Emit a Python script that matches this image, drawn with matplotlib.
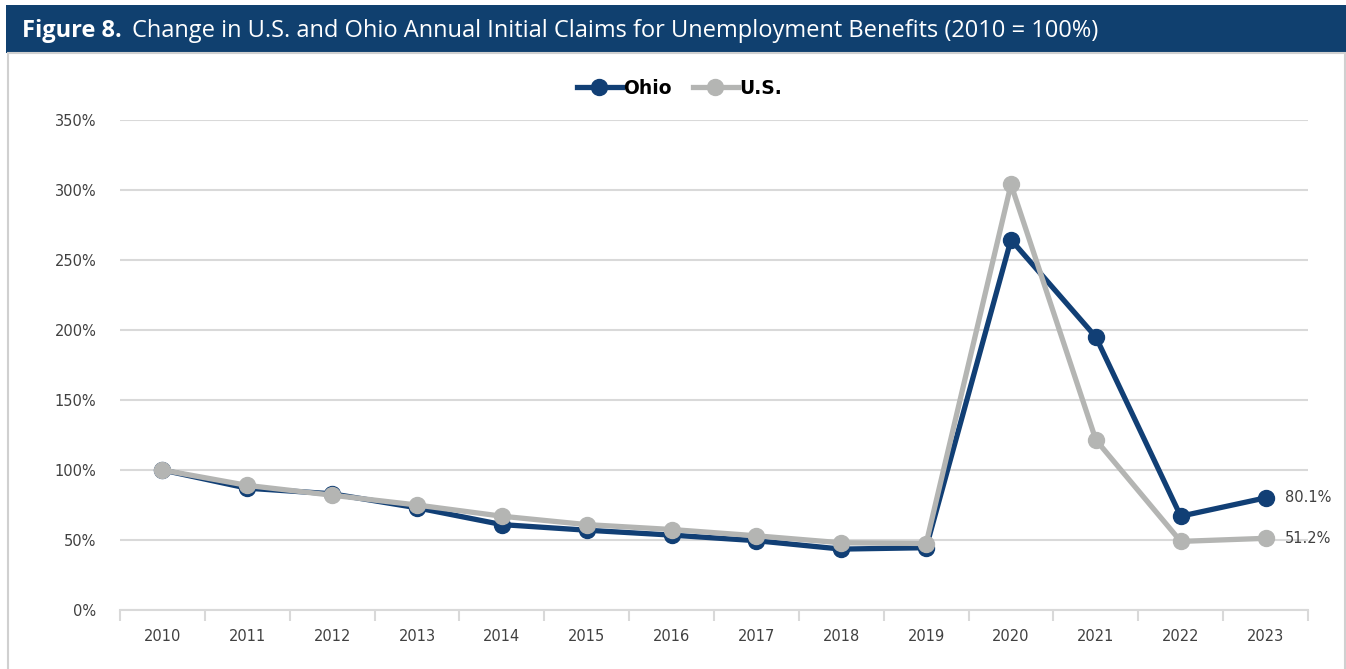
import matplotlib.pyplot as plt
import matplotlib.patches as patches
import numpy as np

# Initial claims indexed to 2010 = 100%
years = ['2010', '2011', '2012', '2013', '2014', '2015', '2016',
         '2017', '2018', '2019', '2020', '2021', '2022', '2023']
ohio = [100, 87, 83, 73, 61, 57, 53.5, 49.5, 43.5, 44.5, 264.5, 195, 67, 80.1]
us = [100, 89, 82, 75, 67, 61, 57.5, 53, 48, 47.5, 304, 121.5, 49, 51.2]

navy = '#113f75'
grey = '#b4b5b3'
grid = '#d9d9d9'
txt = '#404040'

fig = plt.figure(figsize=(13.46, 6.69), dpi=100)

# title bar and white panel
fig.patches.append(patches.Rectangle((6/1346, 1-53/669), 1, 48/669, transform=fig.transFigure,
                                     facecolor='#10406f', edgecolor='none', zorder=-2))
fig.patches.append(patches.Rectangle((8/1346, -0.01), (1337)/1346, 1-53/669+0.01, transform=fig.transFigure,
                                     facecolor='white', edgecolor='#d0d0d0', lw=1.5, zorder=-2))
fig.text(22/1346, 1-31/669, r'Figure 8.', color='white', fontsize=17, fontweight='bold',
         family='Open Sans', va='center', ha='left')
fig.text(132/1346, 1-31/669, 'Change in U.S. and Ohio Annual Initial Claims for Unemployment Benefits (2010 = 100%)',
         color='white', fontsize=17, family='Open Sans', va='center', ha='left')

ax = fig.add_axes([120/1346, 1-610/669, (1308-120)/1346, 490/669])
ax.set_facecolor('none')
x = np.arange(len(years))
ax.plot(x, ohio, color=navy, lw=3.8, marker='o', ms=11.5, label='Ohio', zorder=3)
ax.plot(x, us, color=grey, lw=3.8, marker='o', ms=11.5, label='U.S.', zorder=4)

ax.set_xlim(-0.5, len(years) - 0.5)
ax.set_ylim(0, 350)
ax.set_yticks(np.arange(0, 351, 50))
ax.set_yticklabels([f'{v}%' for v in range(0, 351, 50)])
ax.yaxis.grid(True, color=grid, lw=1.5)
ax.set_axisbelow(True)
ax.tick_params(axis='y', length=0, pad=17, labelsize=10.5, labelcolor=txt)

ax.set_xticks(x)
ax.set_xticklabels(years)
ax.set_xticks(np.arange(-0.5, len(years), 1), minor=True)
ax.tick_params(axis='x', which='major', length=0, pad=14, labelsize=10.5, labelcolor=txt)
ax.tick_params(axis='x', which='minor', length=8, width=1.5, color=grid, direction='out')

for s in ['top', 'right', 'left']:
    ax.spines[s].set_visible(False)
ax.spines['bottom'].set_color(grid)
ax.spines['bottom'].set_linewidth(1.5)

# end labels
ax.annotate(f'{ohio[-1]:.1f}%', (x[-1], ohio[-1]), xytext=(14, 0), textcoords='offset points',
            va='center', ha='left', fontsize=10.5, color=txt)
ax.annotate(f'{us[-1]:.1f}%', (x[-1], us[-1]), xytext=(14, 0), textcoords='offset points',
            va='center', ha='left', fontsize=10.5, color=txt)

leg = ax.legend(loc='center', bbox_to_anchor=(0.471, 1 + 32/490), ncol=2, frameon=False,
                prop={'weight': 'bold', 'size': 13.5}, handlelength=2.4, handletextpad=0.1,
                columnspacing=1.1)

fig.savefig('out.png', dpi=100)
